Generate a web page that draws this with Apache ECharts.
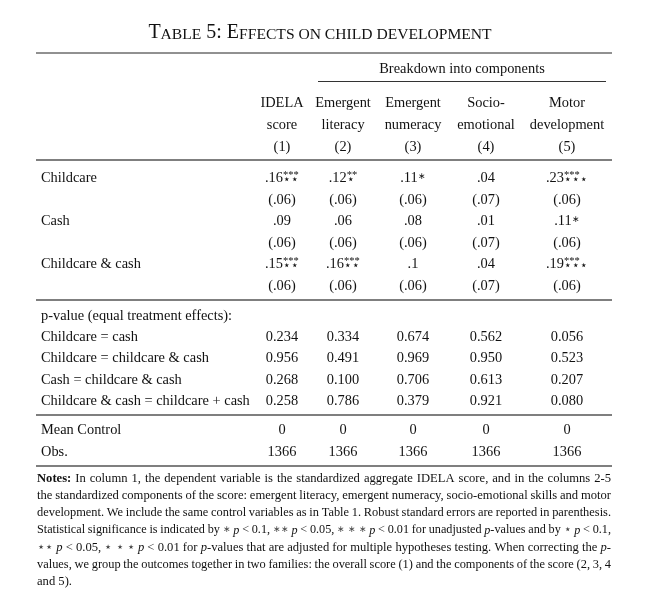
<!DOCTYPE html>
<html>
<head>
<meta charset="utf-8">
<script src="https://cdn.jsdelivr.net/npm/echarts@6/dist/echarts.min.js"></script>
<style>
  html, body { margin: 0; padding: 0; background: #fff; }
  #table { width: 668px; height: 598px; }
</style>
</head>
<body>
<div id="table"></div>
<script>
// 表头
var columnHeads = [
  ['IDELA', 'score', '(1)'],
  ['Emergent', 'literacy', '(2)'],
  ['Emergent', 'numeracy', '(3)'],
  ['Socio-', 'emotional', '(4)'],
  ['Motor', 'development', '(5)']
]
var groupHead = 'Breakdown into components'
// 处理组系数
var treatments = ['Childcare', 'Cash', 'Childcare & cash']
var coefs = [
  ['.16', '.12', '.11', '.04', '.23'],
  ['.09', '.06', '.08', '.01', '.11'],
  ['.15', '.16', '.1', '.04', '.19']
]
var supStars = [
  ['***', '**', '', '', '***'],
  ['', '', '', '', ''],
  ['***', '***', '', '', '***']
]
var subStars = [
  ['⋆⋆', '⋆', '', '', '⋆⋆⋆'],
  ['', '', '', '', ''],
  ['⋆⋆', '⋆⋆', '', '', '⋆⋆⋆']
]
var inlineStars = [
  ['', '', '∗', '', ''],
  ['', '', '', '', '∗'],
  ['', '', '', '', '']
]
var stdErrs = [
  ['(.06)', '(.06)', '(.06)', '(.07)', '(.06)'],
  ['(.06)', '(.06)', '(.06)', '(.07)', '(.06)'],
  ['(.06)', '(.06)', '(.06)', '(.07)', '(.06)']
]
// p 值
var pTitle = 'p-value (equal treatment effects):'
var pLabels = ['Childcare = cash', 'Childcare = childcare & cash', 'Cash = childcare & cash', 'Childcare & cash = childcare + cash']
var pValues = [
  ['0.234', '0.334', '0.674', '0.562', '0.056'],
  ['0.956', '0.491', '0.969', '0.950', '0.523'],
  ['0.268', '0.100', '0.706', '0.613', '0.207'],
  ['0.258', '0.786', '0.379', '0.921', '0.080']
]
var footLabels = ['Mean Control', 'Obs.']
var footValues = [
  ['0', '0', '0', '0', '0'],
  ['1366', '1366', '1366', '1366', '1366']
]
// 注释 [b:..] 粗体  [i:..] 斜体  [a:..] 星号  [s:..] 五角星
var notesLines = [
  '[b:Notes:] In column 1, the dependent variable is the standardized aggregate IDELA score, and in the columns 2-5',
  'the standardized components of the score: emergent literacy, emergent numeracy, socio-emotional skills and motor',
  'development. We include the same control variables as in Table 1. Robust standard errors are reported in parenthesis.',
  'Statistical significance is indicated by [a:∗] [i:p] < 0.1, [a:∗∗] [i:p] < 0.05, [a:∗] [a:∗] [a:∗] [i:p] < 0.01 for unadjusted [i:p]-values and by [s:⋆] [i:p] < 0.1,',
  '[s:⋆⋆] [i:p] < 0.05, [s:⋆] [s:⋆] [s:⋆] [i:p] < 0.01 for [i:p]-values that are adjusted for multiple hypotheses testing. When correcting the [i:p]-',
  'values, we group the outcomes together in two families: the overall score (1) and the components of the score (2, 3, 4',
  'and 5).'
]

// 版式
var INK = '#111'
var FAMILY = '"Liberation Serif", "Times New Roman", serif'
var LEFT = 36, RIGHT = 612, LABEL_X = 41
var colX = [282, 343, 413, 486, 567]
var headY = [103, 125, 147]
var coefY = [178, 221, 264], seY = [200, 243, 286]
var pTitleY = 316, pY = [337, 358, 380, 401]
var footY = [430, 452]
var notesTop = 479, notesStep = 17.1, notesLeft = 37, notesRight = 611
var NOTE_SIZE = 12.6, MIN_GAP = 2.6

function font (size, style, weight) {
  return (style || 'normal') + ' ' + (weight || 'normal') + ' ' + size + 'px ' + FAMILY
}
var F = font(14.4), FSUP = font(10.5), FSUB = font(12)
function noteFont (kind, size) {
  if (kind === 'b') return font(size, 'normal', 'bold')
  if (kind === 'i') return font(size, 'italic')
  if (kind === 'a') return font(size * 0.7)
  return font(size)
}

var ctx = document.createElement('canvas').getContext('2d')
function textWidth (str, f) {
  ctx.font = f
  return ctx.measureText(str).width
}

var els = []
function addText (str, x, y, f, align, va, fill) {
  els.push({
    type: 'text', silent: true,
    style: { text: str, x: x, y: y, font: f, fill: fill || INK, align: align || 'left', verticalAlign: va || 'middle' }
  })
}
function addRule (x1, x2, y, w, c) {
  els.push({
    type: 'line', silent: true,
    shape: { x1: x1, y1: y, x2: x2, y2: y },
    style: { stroke: c, lineWidth: w }
  })
}

// 标题（小型大写）
var titleParts = [['T', 20], ['ABLE', 15.6], [' 5: E', 20], ['FFECTS ON CHILD DEVELOPMENT', 15.6]]
var titleW = 0
titleParts.forEach(function (p) { titleW += textWidth(p[0], font(p[1])) })
var tx = 320 - titleW / 2
titleParts.forEach(function (p) {
  addText(p[0], tx, 43, font(p[1]), 'left', 'bottom')
  tx += textWidth(p[0], font(p[1]))
})

// 横线
addRule(LEFT, RIGHT, 53, 1, '#222')
addRule(318, 606, 81.5, 1.2, '#333')
addRule(LEFT, RIGHT, 160, 1.5, '#555')
addRule(LEFT, RIGHT, 300, 1.5, '#555')
addRule(LEFT, RIGHT, 415, 1.5, '#555')
addRule(LEFT, RIGHT, 466, 1.5, '#555')

// 表头
addText(groupHead, 462, 69, F, 'center')
columnHeads.forEach(function (head, c) {
  head.forEach(function (t, r) { addText(t, colX[c], headY[r], F, 'center') })
})

// 系数与标准误
treatments.forEach(function (name, r) {
  addText(name, LABEL_X, coefY[r], F)
  coefs[r].forEach(function (v, c) {
    var wb = textWidth(v, F)
    var ws = Math.max(textWidth(supStars[r][c], FSUP), textWidth(subStars[r][c], FSUB), textWidth(inlineStars[r][c], font(9)))
    var x0 = colX[c] - (wb + ws) / 2
    addText(v, x0, coefY[r], F)
    if (supStars[r][c]) addText(supStars[r][c], x0 + wb, coefY[r] - 3, FSUP)
    if (subStars[r][c]) addText(subStars[r][c], x0 + wb + 0.5, coefY[r] + 2, FSUB)
    if (inlineStars[r][c]) addText(inlineStars[r][c], x0 + wb + 0.5, coefY[r] - 1, font(9))
    addText(stdErrs[r][c], colX[c], seY[r], F, 'center')
  })
})

// p 值检验
addText(pTitle, LABEL_X, pTitleY, F)
pLabels.forEach(function (name, r) {
  addText(name, LABEL_X, pY[r], F)
  pValues[r].forEach(function (v, c) { addText(v, colX[c], pY[r], F, 'center') })
})
footLabels.forEach(function (name, r) {
  addText(name, LABEL_X, footY[r], F)
  footValues[r].forEach(function (v, c) { addText(v, colX[c], footY[r], F, 'center') })
})

// 注释，两端对齐
function parseWord (word, size) {
  var segs = [], re = /\[(b|i|a|s):([^\]]*)\]/g, last = 0, m
  while ((m = re.exec(word))) {
    if (m.index > last) segs.push({ t: word.slice(last, m.index), f: font(size) })
    segs.push({ t: m[2], f: noteFont(m[1], size), k: m[1] })
    last = re.lastIndex
  }
  if (last < word.length) segs.push({ t: word.slice(last), f: font(size) })
  segs.forEach(function (s) { s.w = textWidth(s.t, s.f) })
  return segs
}
function layoutLine (line, size) {
  var words = line.split(' ').map(function (w) { return parseWord(w, size) })
  var total = 0
  words.forEach(function (segs) { segs.forEach(function (s) { total += s.w }) })
  return { words: words, total: total }
}
notesLines.forEach(function (line, i) {
  var y = notesTop + i * notesStep
  var isLast = i === notesLines.length - 1
  var size = NOTE_SIZE
  var lay = layoutLine(line, size)
  var avail = notesRight - notesLeft
  while (!isLast && lay.total + MIN_GAP * (lay.words.length - 1) > avail && size > 9) {
    size -= 0.1
    lay = layoutLine(line, size)
  }
  var gap = isLast ? textWidth(' ', font(size)) : (avail - lay.total) / (lay.words.length - 1)
  var x = notesLeft
  lay.words.forEach(function (segs) {
    segs.forEach(function (s) {
      var dy = s.k === 'a' ? -1 : 0
      addText(s.t, x, y + dy, s.f, 'left', 'middle', s.k === 'a' || s.k === 's' ? '#444' : INK)
      x += s.w
    })
    x += gap
  })
})

var myChart = echarts.init(document.getElementById('table'))
var option = {
  backgroundColor: '#fff',
  animation: false,
  graphic: { elements: els }
}
myChart.setOption(option)
window.addEventListener('resize', function () {
  myChart.resize()
})
</script>
</body>
</html>
